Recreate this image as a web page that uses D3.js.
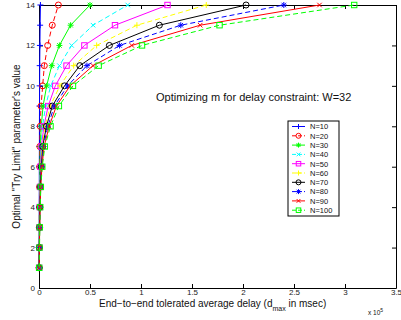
<!DOCTYPE html>
<html>
<head>
<meta charset="utf-8">
<script src="https://cdn.jsdelivr.net/npm/d3@7"></script>
<style>
  body { margin: 0; background: #fff; }
  svg { display: block; font-family: Arial, "Liberation Sans", sans-serif; }
</style>
</head>
<body>
<script>
// ==== data: try limit (y) vs tolerated delay (x, in units of 1e5 msec) ====
var tryLimit = [1, 2, 3, 4, 5, 6, 7, 8, 9, 10, 11, 12, 13, 14];
var seriesNames = ["N=10", "N=20", "N=30", "N=40", "N=50", "N=60", "N=70", "N=80", "N=90", "N=100"];

var delayN10  = [0.001, 0.001, 0.002, 0.002, 0.003, 0.003, 0.004, 0.004, 0.005, 0.006, 0.007, 0.009, 0.011, 0.014];
var delayN20  = [0.001, 0.002, 0.003, 0.004, 0.005, 0.006, 0.008, 0.012, 0.020, 0.036, 0.052, 0.085, 0.130, 0.190];
var delayN30  = [0.001, 0.002, 0.003, 0.005, 0.007, 0.009, 0.013, 0.022, 0.040, 0.075, 0.125, 0.200, 0.310, 0.500];
var delayN40  = [0.001, 0.002, 0.004, 0.006, 0.008, 0.012, 0.018, 0.035, 0.065, 0.115, 0.200, 0.320, 0.530, 0.870];
var delayN50  = [0.001, 0.003, 0.004, 0.007, 0.010, 0.015, 0.024, 0.048, 0.090, 0.160, 0.270, 0.445, 0.745, 1.260];
var delayN60  = [0.002, 0.003, 0.005, 0.008, 0.012, 0.019, 0.030, 0.060, 0.110, 0.205, 0.340, 0.565, 0.960, 1.640];
var delayN70  = [0.002, 0.003, 0.006, 0.009, 0.014, 0.023, 0.036, 0.073, 0.130, 0.250, 0.400, 0.690, 1.180, 2.030];
var delayN80  = [0.002, 0.004, 0.006, 0.010, 0.016, 0.026, 0.043, 0.087, 0.150, 0.280, 0.470, 0.790, 1.390, 2.400];
var delayN90  = [0.002, 0.004, 0.007, 0.011, 0.017, 0.029, 0.050, 0.100, 0.170, 0.305, 0.530, 0.910, 1.580, 2.750];
var delayN100 = [0.002, 0.005, 0.008, 0.012, 0.018, 0.032, 0.057, 0.113, 0.195, 0.333, 0.585, 1.010, 1.770, 3.090];

var xTicks = [0, 0.5, 1, 1.5, 2, 2.5, 3, 3.5];
var yTicks = [0, 2, 4, 6, 8, 10, 12, 14];

// matlab-ish line specs for each series
var colors  = ["#0000ff", "#ff0000", "#00ff00", "#00ffff", "#ff00ff", "#ffff00", "#000000", "#0000ff", "#ff0000", "#00ff00"];
var dashed  = [false, true, false, true, false, true, false, true, false, true];
var markers = ["plus", "circle", "star", "cross", "square", "plus", "circle", "star", "cross", "square"];

var allDelays = [delayN10, delayN20, delayN30, delayN40, delayN50, delayN60, delayN70, delayN80, delayN90, delayN100];

var width = 401, height = 320;
var svg = d3.select("body").append("svg")
    .attr("width", width)
    .attr("height", height);

var x = d3.scaleLinear().domain([0, 3.5]).range([39, 396]);
var y = d3.scaleLinear().domain([0, 14]).range([288, 5]);

// ==== axes (inward ticks on all four sides) ====
function styleAxis(g) {
  g.selectAll("path").attr("stroke", "#000").attr("stroke-width", 1);
  g.selectAll("line").attr("stroke", "#000");
  g.selectAll("text").attr("fill", "#222").style("font-size", "8px");
}

svg.append("g")
    .attr("transform", "translate(0," + y(0) + ")")
    .call(d3.axisBottom(x).tickValues(xTicks).tickFormat(function(d) { return String(d); })
      .tickSizeInner(-4).tickSizeOuter(0).tickPadding(1))
    .call(styleAxis);

svg.append("g")
    .attr("transform", "translate(0," + y(14) + ")")
    .call(d3.axisTop(x).tickValues(xTicks).tickFormat("").tickSizeInner(-4).tickSizeOuter(0))
    .call(styleAxis);

svg.append("g")
    .attr("transform", "translate(" + x(0) + ",0)")
    .call(d3.axisLeft(y).tickValues(yTicks).tickFormat(function(d) { return String(d); })
      .tickSizeInner(-4).tickSizeOuter(0).tickPadding(4))
    .call(styleAxis);

svg.append("g")
    .attr("transform", "translate(" + x(3.5) + ",0)")
    .call(d3.axisRight(y).tickValues(yTicks).tickFormat("").tickSizeInner(-4).tickSizeOuter(0))
    .call(styleAxis);

// ==== markers ====
function drawMarker(g, type, cx, cy, color, s) {
  s = s || 3;
  var p = d3.path();
  if (type === "plus" || type === "star") {
    p.moveTo(cx - s, cy); p.lineTo(cx + s, cy);
    p.moveTo(cx, cy - s); p.lineTo(cx, cy + s);
  }
  if (type === "cross" || type === "star") {
    var t = s * 0.75;
    p.moveTo(cx - t, cy - t); p.lineTo(cx + t, cy + t);
    p.moveTo(cx - t, cy + t); p.lineTo(cx + t, cy - t);
  }
  if (type === "circle") {
    g.append("circle").attr("cx", cx).attr("cy", cy).attr("r", s)
      .attr("fill", "none").attr("stroke", color).attr("stroke-width", 1);
    return;
  }
  if (type === "square") {
    g.append("rect").attr("x", cx - s * 0.9).attr("y", cy - s * 0.9)
      .attr("width", s * 1.8).attr("height", s * 1.8)
      .attr("fill", "none").attr("stroke", color).attr("stroke-width", 1);
    return;
  }
  g.append("path").attr("d", p.toString()).attr("fill", "none")
    .attr("stroke", color).attr("stroke-width", 1);
}

var line = d3.line()
    .x(function(d) { return x(d[0]); })
    .y(function(d) { return y(d[1]); });

var plot = svg.append("g");

allDelays.forEach(function(vals, i) {
  var pts = vals.map(function(v, k) { return [v, tryLimit[k]]; });
  var g = plot.append("g");
  g.append("path")
      .datum(pts)
      .attr("d", line)
      .attr("fill", "none")
      .attr("stroke", colors[i])
      .attr("stroke-width", 1)
      .attr("stroke-dasharray", dashed[i] ? "5,3" : null);
  pts.forEach(function(d) {
    drawMarker(g, markers[i], x(d[0]), y(d[1]), colors[i]);
  });
});

// ==== text ====
svg.append("text")
    .attr("x", 156).attr("y", 101)
    .style("font-size", "11px").attr("fill", "#111")
    .text("Optimizing m for delay constraint: W=32");

var xl = svg.append("text")
    .attr("x", 99).attr("y", 307)
    .style("font-size", "10px").attr("fill", "#111");
xl.append("tspan").text("End\u2212to\u2212end tolerated average delay (d");
xl.append("tspan").attr("dy", 4).style("font-size", "7px").text("max");
xl.append("tspan").attr("dy", -4).text(" in msec)");

var ex = svg.append("text")
    .attr("x", 368).attr("y", 315)
    .style("font-size", "6.5px").attr("fill", "#111");
ex.append("tspan").text("x 10");
ex.append("tspan").attr("dy", -3).style("font-size", "5px").text("5");

svg.append("text")
    .attr("transform", "translate(20," + ((y(0) + y(14)) / 2) + ") rotate(-90)")
    .attr("text-anchor", "middle")
    .style("font-size", "10px").attr("fill", "#111")
    .text("Optimal \"Try Limit\" parameter's value");

// ==== legend ====
var legTop = 121, legLeft = 288, legW = 51, rowH = 9.3;
var legend = svg.append("g");
legend.append("rect")
    .attr("x", legLeft).attr("y", legTop)
    .attr("width", legW).attr("height", rowH * seriesNames.length + 2)
    .attr("fill", "#fff").attr("stroke", "#000").attr("stroke-width", 1);

seriesNames.forEach(function(name, i) {
  var cy = legTop + 5.5 + i * rowH;
  var g = legend.append("g");
  g.append("line")
      .attr("x1", legLeft + 4).attr("x2", legLeft + 17)
      .attr("y1", cy).attr("y2", cy)
      .attr("stroke", colors[i]).attr("stroke-width", 1)
      .attr("stroke-dasharray", dashed[i] ? "4,2" : null);
  drawMarker(g, markers[i], legLeft + 10.5, cy, colors[i], 2.5);
  g.append("text")
      .attr("x", legLeft + 22).attr("y", cy + 2.8)
      .style("font-size", "7.5px").attr("fill", "#111")
      .text(name);
});
</script>
</body>
</html>
